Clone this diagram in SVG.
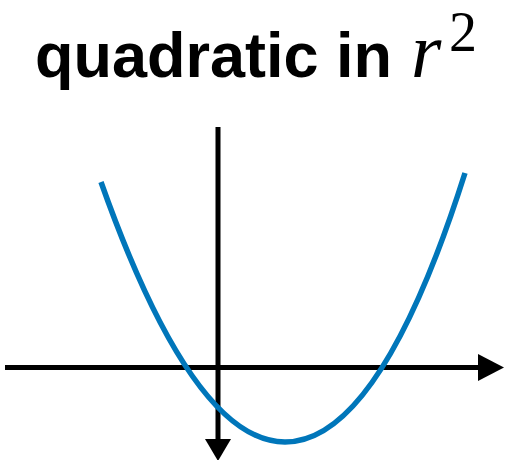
<svg xmlns="http://www.w3.org/2000/svg" width="517" height="460" viewBox="0 0 517 460">
<style>
.title{font-family:"Liberation Sans",Arial,sans-serif;font-weight:bold;font-size:63px;fill:#000}
.math{font-family:"Liberation Serif","Times New Roman",serif;fill:#000}
.axis{stroke:#000;stroke-width:5;fill:none}
.curve{stroke:#0076BA;stroke-width:5.5;fill:none}
</style>
<rect width="517" height="460" fill="#fff"/>
<g id="title">
<text class="title" x="35" y="77">quadratic in</text>
<text class="math" x="411" y="77" font-size="78" font-style="italic">r</text>
<text class="math" x="449" y="51" font-size="56">2</text>
</g>
<g id="connectors">
<line class="axis" x1="5" y1="367.5" x2="480" y2="367.5"/>
<polygon points="478,354 478,381 504,367.5" fill="#000"/>
<line class="axis" x1="218" y1="127" x2="218" y2="441"/>
<polygon points="205,439 231,439 218,461" fill="#000"/>
</g>
<g id="curve">
<path class="curve" d="M101,182 Q193,442 285,442 C352,442 412,340 465,173"/>
</g>
</svg>
